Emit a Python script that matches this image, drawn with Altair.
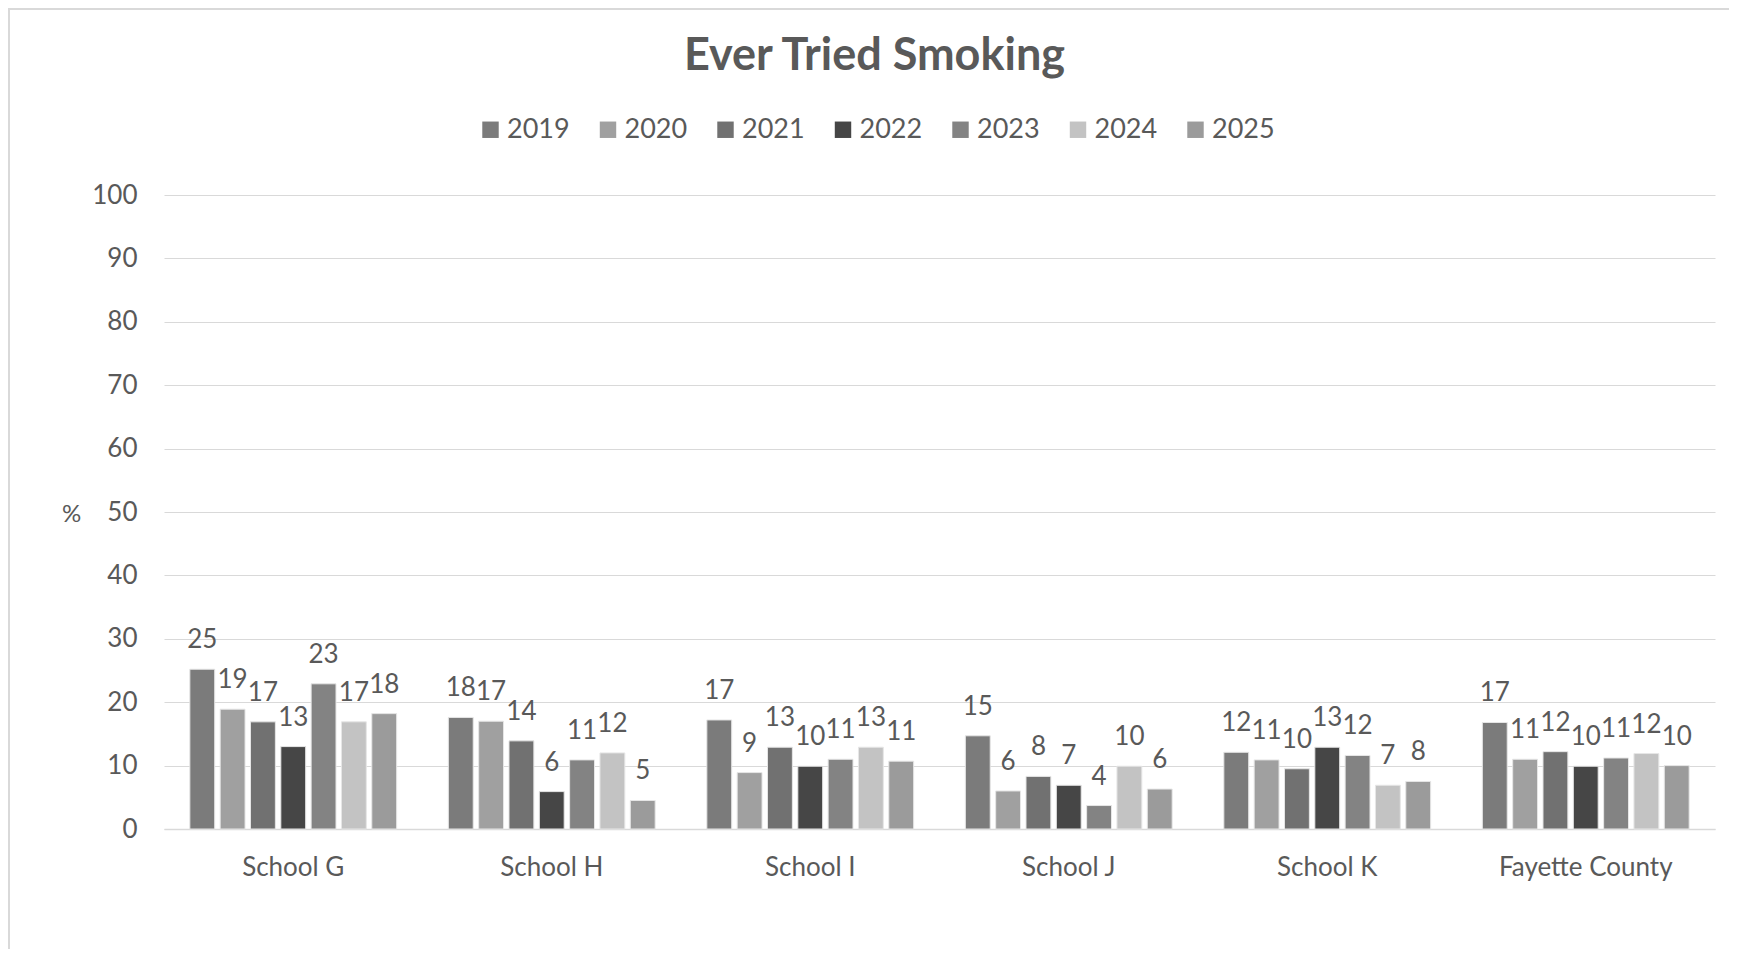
import altair as alt
import pandas as pd

schools = ["School G", "School H", "School I", "School J", "School K", "Fayette County"]
years = ["2019", "2020", "2021", "2022", "2023", "2024", "2025"]
v2019 = [25.2, 17.6, 17.2, 14.7, 12.1, 16.8]
v2020 = [18.9, 17.0, 8.9, 6.0, 10.9, 11.0]
v2021 = [16.9, 13.9, 12.9, 8.3, 9.5, 12.2]
v2022 = [13.0, 5.9, 9.9, 6.9, 12.9, 9.9]
v2023 = [22.9, 10.9, 11.0, 3.7, 11.6, 11.2]
v2024 = [16.9, 12.0, 12.9, 9.9, 6.9, 11.9]
v2025 = [18.2, 4.5, 10.7, 6.3, 7.5, 10.0]
series = [v2019, v2020, v2021, v2022, v2023, v2024, v2025]
colors = ["#7b7b7b", "#a0a0a0", "#717171", "#464646", "#838383", "#c3c3c3", "#9b9b9b"]

rows = []
for yr, vals in zip(years, series):
    for s, v in zip(schools, vals):
        rows.append({"school": s, "year": yr, "value": v})
df = pd.DataFrame(rows)

TXT = "#595959"
FONT = "Lato"

base = alt.Chart(df).encode(
    x=alt.X("school:N", sort=schools,
            scale=alt.Scale(paddingInner=0.2, paddingOuter=0.1),
            axis=alt.Axis(title=None, labelAngle=0, ticks=False, domainColor="#d9d9d9",
                          domainWidth=1.5, labelFontSize=26, labelColor=TXT, labelFont=FONT,
                          labelPadding=25, grid=False)),
    xOffset=alt.XOffset("year:N", sort=years, scale=alt.Scale(paddingInner=0.18)),
    y=alt.Y("value:Q", scale=alt.Scale(domain=[0, 100]),
            axis=alt.Axis(values=list(range(0, 101, 10)), title="%", titleAngle=0,
                          titleX=-93, titleY=319, titleAlign="center", titleBaseline="middle",
                          titleFontSize=24, titleFontWeight="normal", titleColor=TXT, titleFont=FONT,
                          domain=False, ticks=False, gridColor="#d9d9d9", gridWidth=1.2,
                          labelFontSize=26, labelColor=TXT, labelFont=FONT, labelPadding=27)),
)

bars = base.mark_bar(stroke="#e6e6e6", strokeWidth=1).encode(
    color=alt.Color("year:N", scale=alt.Scale(domain=years, range=colors),
                    legend=alt.Legend(title=None, orient="none", legendX=313, legendY=-79,
                                      direction="horizontal", symbolType="square",
                                      symbolSize=270, symbolStrokeWidth=0, labelFontSize=27,
                                      labelFont=FONT, labelColor=TXT, columnPadding=24.5,
                                      labelOffset=3, padding=0))
)

labels = base.mark_text(dy=-29, fontSize=26, color=TXT, font=FONT, baseline="middle").encode(
    text=alt.Text("value:Q", format=".0f")
)

border = alt.Chart(pd.DataFrame({"a": [0]})).mark_rect(
    filled=False, stroke="#d9d9d9", strokeWidth=2
).encode(x=alt.value(-155), x2=alt.value(3000), y=alt.value(-186), y2=alt.value(3000))

chart = alt.layer(border, bars, labels).properties(
    width=1551, height=634,
    padding={"left": 156, "top": 187, "right": 14, "bottom": 120},
    autosize=alt.AutoSizeParams(type="none"),
    title=alt.TitleParams("Ever Tried Smoking", fontSize=45, font=FONT, fontWeight="bold",
                          color=TXT, anchor="middle", dx=-65, offset=-93, baseline="middle"),
).configure_view(stroke=None)

chart.save("out.html", embed_options={"renderer": "svg", "actions": False})
